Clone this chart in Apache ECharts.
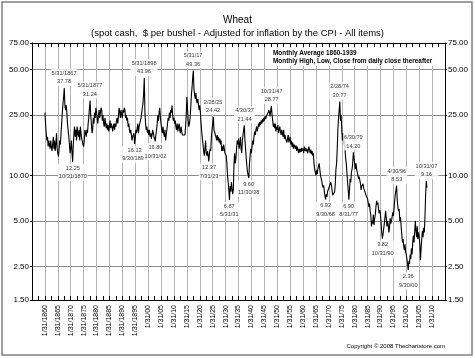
<!DOCTYPE html>
<html><head><meta charset="utf-8">
<script src="https://cdn.jsdelivr.net/npm/echarts@6/dist/echarts.min.js"></script>
<style>html,body{margin:0;padding:0;background:#fff}#c{width:475px;height:358px}</style>
</head><body><div id="c"></div>
<script>
// Quarterly readings of the inflation-adjusted wheat price, starting 1860.0
const startYear = 1860;
const stepYears = 0.25;
const prices = [
26,22,19,17, 18,15.5,17,16, 15,17,15.5,14.5, 16,18,15,17, 14.5,16,19,15,
14,13.3,15,17, 16,19,22,26, 30,33,37.78,29, 27,29,26,22, 20,18,16,14,
15,17,14,12.25, 16,19,21,18, 20,17,21,19, 18,20,17,21, 19,17.5,18,16,
15.5,17,20,19, 18,20,19,22, 24,28,31.24,25, 22,19,20,24, 22,26,24,28,
26,24,22,25, 27,24,26,28, 27,23,25,22, 21,24,22,20.5, 22,20,21.5,19.5,
21,23,20.5,22, 21,19.5,21,22, 20,22,21,23, 24,22,25,28, 26,24,27,25,
24,27,26,28, 27,24,25,23, 24,21,22,20, 19,20,18.5,17, 18,17.5,19,16.13,
17.5,20,19,20.5, 22,19,21,22, 22,24,26,28, 30,35,43.96,26, 22,20,21,19,
20,18.5,20,18, 19,17.5,18.5,20, 19,18,17.5,16.8, 18.5,20,22,25, 23,26,28,24,
22,20,19,21, 19,18,20,17, 18.5,20,22,24, 23,26,24,27, 26,29,25,23,
24,22,23,21, 20,22,19.5,21, 22,20,19,21, 19.5,18.5,18,19, 19,18.5,21,25,
33,28,23,21, 22,24,28,34, 38,44,49.36,37, 34,32,35,31, 30,32,29,27,
29,26,22,19.5, 17.5,16,14.5,13.5, 15,17,14,13.5, 14.5,13.5,12.37,14, 15,14.5,18,20,
22,24.42,20,19.5, 20,18,17,18.5, 17,18,16.5,17.5, 16,17,14.5,15.5, 14.5,16,15,14,
14,13.5,12,10, 9,8,6.87,8.5, 7.8,9,8.2,7.5, 8,12,14,12, 13,15,17,16,
17.5,15,16,18, 15,14,17,18.5, 20,21.44,17,15, 13,11.5,10.5,10, 9.6,12,13.5,15,
14,15.5,17,16, 18,19.5,18.5,20, 21,19.5,20.5,22, 21,22.5,21.5,23, 22,23.5,22.5,24,
23,24.5,23.5,24.5, 25,24,26,27, 26,24.5,27,28.77, 25,23,21,22, 20.5,22,19.5,21,
20,21.5,19,20, 21,19.5,18.5,20, 19,18,20,17.5, 18.5,17.5,18,16.5, 17.5,18.5,16.5,17,
18,16,17,15.5, 16.5,15,16,15.5, 15,15.8,14.5,15.5, 14.8,14,15,14.2, 15,14.3,15.2,14.5,
15,14,15.5,14.6, 15.2,14.4,15,14, 14.5,15.5,14.8,14, 14.8,13.8,14.5,13.5, 14,12,11,10.5,
10,10.8,10.2,11, 11.5,12,11,10, 9.8,9.2,8.6,8.3, 8.6,7.8,7.3,6.92, 7.5,7.2,7.8,8,
7.6,8.5,8.3,9, 8.6,8,7.4,7.6, 7.5,7.8,8.8,11, 12,15,20,24, 27,30.77,23,25,
20,17,19,16, 17,15,13,12, 10.5,9,8,6.9, 8,9.5,9,10.5, 11,12,14.2,13,
12,11,12,11, 10.5,10,9.5,9.8, 9.3,8.8,8,8.5, 8.3,8.8,8.2,8, 7.8,8,7.3,7.5,
7,6.8,6.2,6.5, 5.8,5.5,4.6,5, 4.8,5.5,4.7,5.2, 5.5,6.2,6.8,6.4, 6.6,6,5.6,5.9,
5.5,4.8,4.2,3.82, 4.1,4,4.8,5.3, 5.8,5.2,4.6,5, 4.7,4.2,4.5,5.2, 4.8,5,5.3,5.7,
5.4,6,6.8,7.5, 8,8.53,6.8,6.2, 5.8,6,5,5.3, 4.6,4.1,3.6,3.8, 3.4,3.2,3.5,3.1,
3,2.8,2.6,2.36, 2.7,2.6,3,2.8, 3.3,3.0,3.6,4.0, 3.6,4.2,5.0,4.3, 3.9,4.6,3.8,4.2,
3.9,3.5,2.75,3.3, 3.8,4.3,3.9,4.5, 4.2,5.4,7.5,9.16, 8.3
];
const yTickValues = [1.5, 2.5, 5, 10, 25, 50, 75];
const annDates  = ['5/31/1867','10/31/1870','5/31/1877','9/30/1894','5/31/1898','10/31/02','5/31/17','7/31/23','2/28/25','5/31/31','4/30/37','11/30/38','10/31/47','9/30/68','2/28/74','8/31/77','6/30/79','10/31/90','4/30/96','9/30/00','10/31/07'];
const annYears  = [1867,1870,1877,1894,1898,1902,1917,1923,1925,1931,1937,1938,1947,1968,1974,1977,1979,1990,1996,2000,2007];
const annValues = [37.78,12.25,31.24,16.13,43.96,16.80,49.36,12.37,24.42,6.87,21.44,9.60,28.77,6.92,30.77,6.90,14.20,3.82,8.53,2.36,9.16];
const annSide   = ['top','bottom','top','bottom','top','bottom','top','bottom','top','bottom','top','bottom','top','bottom','top','bottom','top','bottom','top','bottom','top'];

const lineData = prices.map((v, i) => [startYear + i * stepYears, v]);
const annData = annDates.map((d, i) => {
  const v = annValues[i].toFixed(2);
  const month = +d.split('/')[0];
  return {
    value: [annYears[i] + month / 12, annValues[i]],
    label: { position: annSide[i], formatter: annSide[i] === 'top' ? d + '\n' + v : v + '\n' + d }
  };
});
const FONT = 'Liberation Sans, Arial, sans-serif';
function xFmt(v){
  if (v <= 1855 || v >= 2015) return '';
  if (v < 1900) return '1/31/' + v;
  const yy = v % 100;
  return '1/31/' + (yy < 10 ? '0' + yy : '' + yy);
}
const baseX = {
  type: 'value', min: 1855, max: 2015, interval: 5,
  axisLine: { show: true, lineStyle: { color: '#000', width: 1 } },
  axisTick: { show: true, inside: true, length: 4, lineStyle: { color: '#000' } },
  minorTick: { show: true, splitNumber: 2, length: 4, lineStyle: { color: '#000' } },
};
const baseY = {
  type: 'log', logBase: 10, min: 1.5, max: 75,
  axisLine: { show: true, lineStyle: { color: '#000', width: 1 } },
  axisTick: { show: true, length: 2, customValues: yTickValues, lineStyle: { color: '#000' } },
  axisLabel: { customValues: yTickValues, formatter: v => Number(v).toFixed(2), fontSize: 8, margin: 3, color: '#000', fontFamily: FONT },
  minorTick: { show: false }
};
const chart = echarts.init(document.getElementById('c'), null, { renderer: 'canvas' });
chart.setOption({
  animation: false,
  backgroundColor: '#fff',
  title: [
    { text: 'Wheat', left: 'center', top: 10, textStyle: { fontSize: 10, fontWeight: 'normal', color: '#000', fontFamily: FONT } },
    { text: '(spot cash,  $ per bushel - Adjusted for inflation by the CPI - All items)', left: 'center', top: 23, textStyle: { fontSize: 9.5, fontWeight: 'normal', color: '#000', fontFamily: FONT } }
  ],
  grid: { left: 32, right: 30, top: 43, bottom: 58, containLabel: false },
  xAxis: [
    Object.assign({}, baseX, {
      position: 'bottom',
      splitLine: { show: true, lineStyle: { color: '#b4b4b4', width: 1 } },
      axisLabel: { rotate: 90, fontSize: 7, margin: 5, color: '#000', fontFamily: FONT, formatter: xFmt }
    }),
    Object.assign({}, baseX, {
      position: 'top',
      splitLine: { show: false },
      axisLabel: { show: false }
    })
  ],
  yAxis: [
    Object.assign({}, baseY, { position: 'left', splitLine: { show: true, lineStyle: { color: '#8c8c8c', width: 1 } } }),
    Object.assign({}, baseY, { position: 'right', splitLine: { show: false } })
  ],
  series: [
    {
      type: 'line', data: lineData, xAxisIndex: 0, yAxisIndex: 0,
      symbol: 'none', lineStyle: { color: '#000', width: 1.1 }, z: 3
    },
    {
      type: 'scatter', data: annData, xAxisIndex: 0, yAxisIndex: 0,
      symbolSize: 0, z: 4,
      label: { show: true, fontSize: 5.6, lineHeight: 8.5, color: '#000', fontFamily: FONT, backgroundColor: '#fff', padding: [0, 1], distance: 2 }
    }
  ],
  graphic: [
    { type: 'rect', shape: { x: 2, y: 2, width: 470, height: 353 }, style: { fill: 'none', stroke: '#808080', lineWidth: 1.5 }, silent: true },
    { type: 'text', left: 272, top: 48, z: 10, style: { text: 'Monthly Average 1860-1939\nMonthly High, Low, Close from daily close thereafter', font: 'bold 6.4px ' + FONT, lineHeight: 8, fill: '#000', backgroundColor: '#fff', padding: [1, 1] } },
    { type: 'text', right: 30, top: 343, style: { text: 'Copyright \u00a9 2008 Thechartstore.com', font: '6px ' + FONT, fill: '#000' } }
  ]
});
</script>
</body></html>
